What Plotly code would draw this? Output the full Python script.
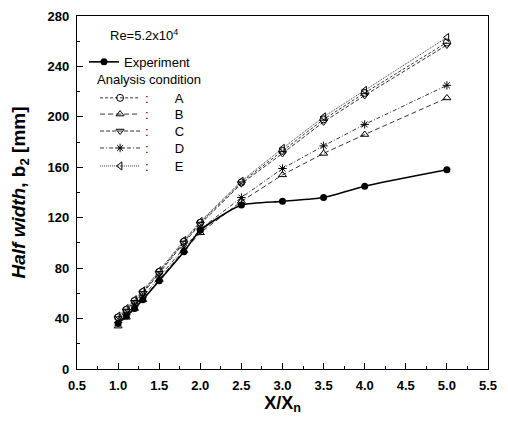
import plotly.graph_objects as go

# data
x_vals = [1.0, 1.1, 1.2, 1.3, 1.5, 1.8, 2.0, 2.5, 3.0, 3.5, 4.0, 5.0]
exp_b2 = [36, 42, 48, 55, 70, 93, 110, 130, 133, 136, 145, 158]
a_b2 = [41, 47, 54, 61, 77, 101, 116, 148, 173, 198, 219, 259]
b_b2 = [34, 41, 48, 55, 71, 94, 108, 133, 154, 171, 186, 215]
c_b2 = [40, 46, 53, 60, 76, 100, 115, 147, 171, 196, 217, 257]
d_b2 = [37, 43, 50, 57, 73, 96, 111, 136, 159, 177, 194, 225]
e_b2 = [42, 48, 55, 62, 78, 102, 117, 149, 175, 200, 221, 263]

fnt = "Liberation Sans, Arial, sans-serif"

fig = go.Figure()

fig.add_trace(go.Scatter(x=x_vals, y=exp_b2, name="Experiment", mode="lines+markers",
                         line=dict(color="black", width=1.6, shape="spline", smoothing=0.6),
                         marker=dict(symbol="circle", size=7, color="black"),
                         showlegend=True, legend="legend"))

# one legend per case so the rows can sit closer than plotly's default spacing
cases = [
    ("A", a_b2, "circle-open", "3px,2px", 0.768),
    ("B", b_b2, "triangle-up-open", "5px,3px", 0.722),
    ("C", c_b2, "triangle-down-open", "4px,2px", 0.674),
    ("D", d_b2, "asterisk-open", "4px,2px,1px,2px", 0.626),
    ("E", e_b2, "triangle-left-open", "1px,1px", 0.575),
]
legends = {}
for i, (name, ys, sym, dash, ly) in enumerate(cases):
    key = "legend%d" % (i + 2)
    fig.add_trace(go.Scatter(x=x_vals, y=ys, name=":\u2003\u2003" + name, mode="lines+markers",
                             line=dict(color="black", width=0.8, dash=dash),
                             marker=dict(symbol=sym, size=7, color="black",
                                         line=dict(color="black", width=1)),
                             showlegend=True, legend=key))
    legends[key] = dict(x=0.044, y=ly, xanchor="left", yanchor="middle",
                        bgcolor="rgba(0,0,0,0)", font=dict(family=fnt, size=13),
                        itemwidth=40)

fig.add_annotation(x=0.075, y=0.946, xref="paper", yref="paper", xanchor="left", yanchor="middle",
                   text="Re=5.2x10<sup>4</sup>", showarrow=False,
                   font=dict(family=fnt, size=13, color="black"))
fig.add_annotation(x=0.045, y=0.819, xref="paper", yref="paper", xanchor="left", yanchor="middle",
                   text="Analysis condition", showarrow=False,
                   font=dict(family=fnt, size=13, color="black"))

axis_common = dict(showline=True, linecolor="black", linewidth=1.2, mirror=True,
                   ticks="inside", ticklen=6, tickwidth=1.2, tickcolor="black",
                   showgrid=False, zeroline=False, automargin=False,
                   ticklabeloverflow="allow", ticklabelstandoff=4,
                   tickfont=dict(family=fnt, size=13, color="black", weight="bold"))

fig.update_xaxes(range=[0.5, 5.5], dtick=0.5, tickformat=".1f",
                 minor=dict(ticks="inside", ticklen=3, dtick=0.25, tickcolor="black"),
                 title=dict(text="<b>X/X<sub>n</sub></b>", standoff=1,
                            font=dict(family=fnt, size=18, color="black")),
                 **axis_common)
fig.update_yaxes(range=[0, 280], dtick=40,
                 minor=dict(ticks="inside", ticklen=3, dtick=20, tickcolor="black"),
                 title=dict(text="<b><i>Half width</i>, b<sub>2</sub> [mm]</b>", standoff=16,
                            font=dict(family=fnt, size=19, color="black")),
                 **axis_common)

# page body has an 8px margin, so the figure is 8px smaller than the window
fig.update_layout(
    width=500, height=416, showlegend=True,
    margin=dict(l=69, r=20, t=8, b=55),
    plot_bgcolor="white", paper_bgcolor="white",
    font=dict(family=fnt, color="black"),
    legend=dict(x=0.017, y=0.870, xanchor="left", yanchor="middle", bgcolor="rgba(0,0,0,0)",
                font=dict(family=fnt, size=13), itemwidth=30),
    **legends,
)

fig.write_html("out.html")
